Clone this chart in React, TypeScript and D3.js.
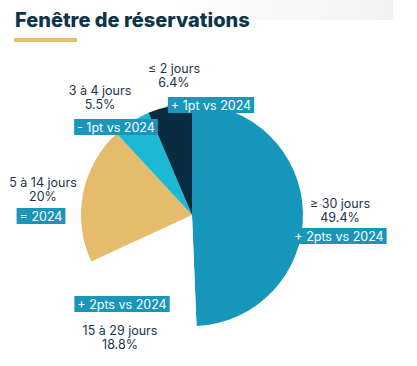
import * as d3 from 'd3'
import { useEffect, useRef } from 'react'

// data
const categories = ['≥ 30 jours', '15 à 29 jours', '5 à 14 jours', '3 à 4 jours', '≤ 2 jours']
const shares = [49.4, 18.8, 20, 5.5, 6.4]
const shareLabels = ['49.4%', '18.8%', '20%', '5.5%', '6.4%']
const deltas = ['+ 2pts vs 2024', '+ 2pts vs 2024', '= 2024', '- 1pt vs 2024', '+ 1pt vs 2024']

const colors = ['#1796bb', '#ffffff', '#e5bc6b', '#1cb9d6', '#082d40']

// label layout: text centre x, first line y, delta box centre x/y
const labelPos = [
  { x: 340, y: 204, bx: 339, by: 236 },
  { x: 120, y: 331, bx: 122, by: 304 },
  { x: 43, y: 183, bx: 41, by: 216 },
  { x: 100, y: 91, bx: 116, by: 127 },
  { x: 174, y: 69, bx: 211, by: 105 },
]

const W = 417
const H = 366
const FONT = 'Inter, "Noto Sans", sans-serif'

export default function App() {
  const ref = useRef<SVGSVGElement>(null)

  useEffect(() => {
    const svg = d3.select(ref.current)
    svg.selectAll('*').remove()

    const defs = svg.append('defs')
    const grad = defs.append('linearGradient').attr('id', 'topfade').attr('x1', 0).attr('x2', 1)
    grad.append('stop').attr('offset', '0%').attr('stop-color', '#f4f4f4').attr('stop-opacity', 0)
    grad.append('stop').attr('offset', '100%').attr('stop-color', '#f2f2f2').attr('stop-opacity', 1)
    svg.append('rect').attr('x', 150).attr('y', 0).attr('width', 243).attr('height', 20).attr('fill', 'url(#topfade)')

    // title
    svg.append('text')
      .attr('x', 15).attr('y', 27)
      .attr('font-family', FONT)
      .attr('font-weight', 800)
      .attr('font-size', 20)
      .attr('fill', '#0f3347')
      .text('Fenêtre de réservations')
    svg.append('rect').attr('x', 14).attr('y', 38).attr('width', 63).attr('height', 4).attr('fill', '#e6bf6a')

    const cx = 192
    const cy = 215
    const r = 111

    const pie = d3.pie<number>().sort(null).value(d => d)
    const arc = d3.arc<d3.PieArcDatum<number>>().innerRadius(0).outerRadius(r)

    const g = svg.append('g').attr('transform', `translate(${cx},${cy})`)
    g.selectAll('path')
      .data(pie(shares))
      .join('path')
      .attr('d', arc)
      .attr('fill', (_, i) => colors[i])

    // labels
    categories.forEach((c, i) => {
      const p = labelPos[i]
      const t = svg.append('text')
        .attr('font-family', FONT)
        .attr('font-size', 12.5)
        .attr('fill', '#1d3449')
        .attr('text-anchor', 'middle')
      t.append('tspan').attr('x', p.x).attr('y', p.y + 4).text(c)
      t.append('tspan').attr('x', p.x).attr('y', p.y + 18).text(shareLabels[i])

      const bt = svg.append('text')
        .attr('font-family', FONT)
        .attr('font-size', 12.5)
        .attr('fill', '#ffffff')
        .attr('text-anchor', 'middle')
        .attr('x', p.bx).attr('y', p.by + 4.5)
        .text(deltas[i])
      const bb = (bt.node() as SVGTextElement).getBBox()
      svg.insert('rect', () => bt.node())
        .attr('x', bb.x - 3).attr('y', p.by - 8)
        .attr('width', bb.width + 6).attr('height', 16)
        .attr('fill', '#1a96bb')
    })
  }, [])

  return (
    <svg ref={ref} width={W} height={H} style={{ position: 'absolute', left: 0, top: 0, background: '#fff' }} />
  )
}
